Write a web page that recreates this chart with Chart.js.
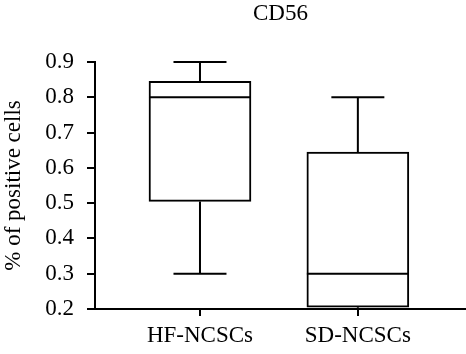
<!DOCTYPE html>
<html>
<head>
<meta charset="utf-8">
<script src="https://cdn.jsdelivr.net/npm/chart.js@4"></script>
<style>
    html, body { margin: 0; padding: 0; background: #fff; }
    #wrap { width: 466px; height: 354px; }
</style>
</head>
<body>
<div id="wrap"><canvas id="boxChart" width="466" height="354"></canvas></div>
<script>
// Box plot values
const chartTitle = 'CD56';
const categories = ['HF-NCSCs', 'SD-NCSCs'];
const minValues = [0.30, 0.20];
const q1Values = [0.505, 0.205];
const medianValues = [0.80, 0.30];
const q3Values = [0.845, 0.645];
const maxValues = [0.90, 0.80];
const yTicks = [0.2, 0.3, 0.4, 0.5, 0.6, 0.7, 0.8, 0.9];

const serif = "'Liberation Serif', 'Times New Roman', serif";

// Whiskers, caps, medians and the title over the plot area
const boxExtras = {
    id: 'boxExtras',
    afterDatasetsDraw(chart) {
        const c = chart.ctx;
        const xs = chart.scales.x;
        const ys = chart.scales.y;
        const capHalf = 26.5;
        const boxHalf = 51;
        c.save();
        c.strokeStyle = '#000';
        c.lineWidth = 2;
        categories.forEach((cat, i) => {
            const x = xs.getPixelForValue(i + 1);
            const yMin = ys.getPixelForValue(minValues[i]);
            const yQ1 = ys.getPixelForValue(q1Values[i]);
            const yMed = ys.getPixelForValue(medianValues[i]);
            const yQ3 = ys.getPixelForValue(q3Values[i]);
            const yMax = ys.getPixelForValue(maxValues[i]);
            c.beginPath();
            // upper whisker + cap
            c.moveTo(x, yQ3); c.lineTo(x, yMax);
            c.moveTo(x - capHalf, yMax); c.lineTo(x + capHalf, yMax);
            // lower whisker + cap
            c.moveTo(x, yQ1); c.lineTo(x, yMin);
            c.moveTo(x - capHalf, yMin); c.lineTo(x + capHalf, yMin);
            // median
            c.moveTo(x - boxHalf, yMed); c.lineTo(x + boxHalf, yMed);
            c.stroke();
        });
        c.restore();
    },
    afterDraw(chart) {
        const c = chart.ctx;
        const area = chart.chartArea;
        c.save();
        c.fillStyle = '#000';
        c.font = '23px ' + serif;
        c.textAlign = 'center';
        c.textBaseline = 'middle';
        c.fillText(chartTitle, (area.left + area.right) / 2, 14);
        c.restore();
    }
};

const ctx = document.getElementById('boxChart').getContext('2d');
const boxChart = new Chart(ctx, {
    type: 'bar',
    data: {
        datasets: [{
            label: 'IQR',
            data: categories.map((cat, i) => ({ x: i + 1, y: [q1Values[i], q3Values[i]] })),
            backgroundColor: '#fff',
            borderColor: '#000',
            borderWidth: 2,
            borderSkipped: false,
            barThickness: 102,
        }],
    },
    options: {
        responsive: false,
        animation: false,
        layout: { padding: { top: 62, right: 0, left: 0, bottom: 0 } },
        plugins: {
            legend: { display: false },
            tooltip: { enabled: false },
            title: { display: false },
        },
        scales: {
            x: {
                type: 'linear',
                offset: false,
                min: 0.335,
                max: 2.685,
                afterBuildTicks: (scale) => {
                    scale.ticks = categories.map((cat, i) => ({ value: i + 1 }));
                },
                afterFit: (scale) => { scale.height = 45; },
                ticks: {
                    callback: (v) => categories[Math.round(v) - 1] || '',
                    color: '#000',
                    font: { family: serif, size: 23 },
                    padding: 6,
                    maxRotation: 0,
                    autoSkip: false,
                },
                grid: {
                    offset: false,
                    drawOnChartArea: false,
                    drawTicks: true,
                    tickLength: 7,
                    color: '#000',
                    lineWidth: 2,
                },
                border: { color: '#000', width: 2 },
            },
            y: {
                min: 0.2,
                max: 0.9,
                afterBuildTicks: (scale) => {
                    scale.ticks = yTicks.map(v => ({ value: v }));
                },
                afterFit: (scale) => { scale.width = 95; },
                ticks: {
                    callback: (v) => v.toFixed(1),
                    color: '#000',
                    font: { family: serif, size: 23 },
                    padding: 13,
                },
                grid: {
                    drawOnChartArea: false,
                    drawTicks: true,
                    tickLength: 8,
                    color: '#000',
                    lineWidth: 2,
                },
                border: { color: '#000', width: 2 },
                title: {
                    display: true,
                    text: '% of positive cells',
                    color: '#000',
                    font: { family: serif, size: 23 },
                    padding: { top: 0, bottom: 0 },
                },
            },
        },
    },
    plugins: [boxExtras],
});
</script>
</body>
</html>
